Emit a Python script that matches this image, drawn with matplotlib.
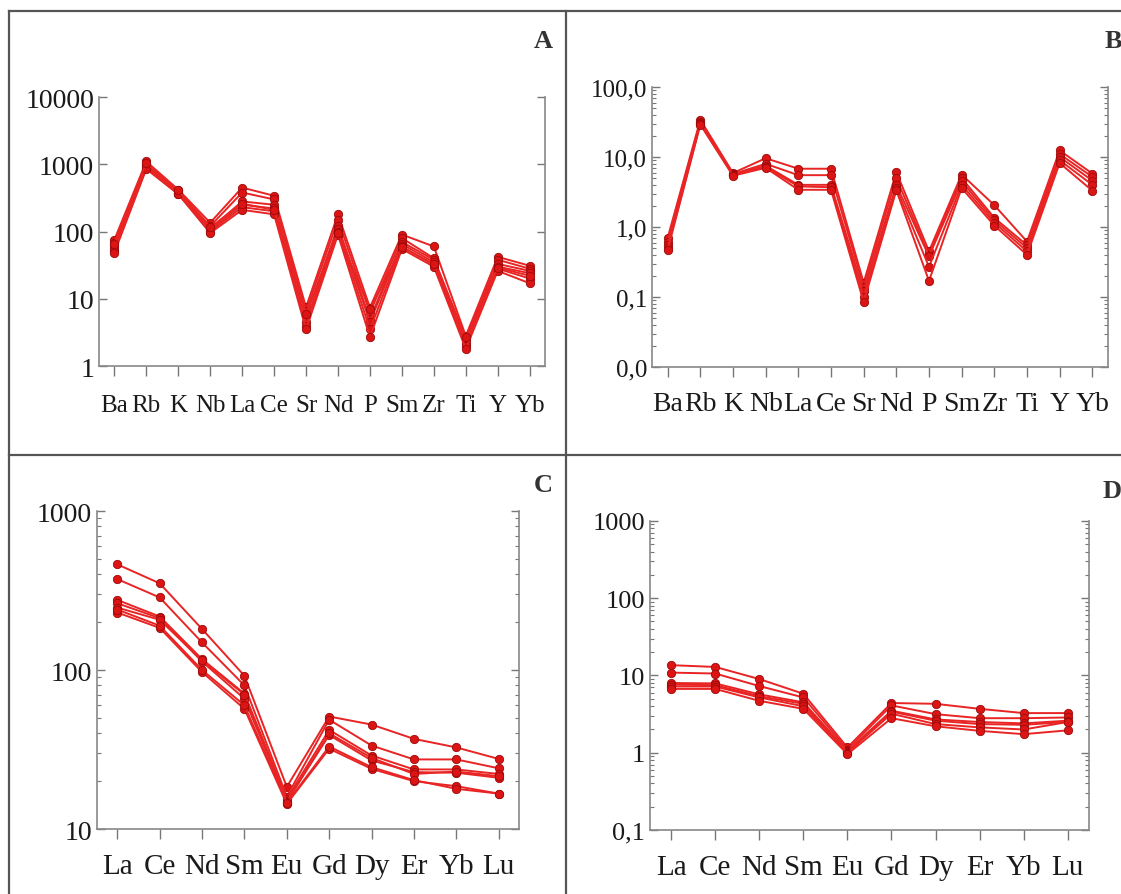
import numpy as np
import matplotlib
matplotlib.use("Agg")
import matplotlib.pyplot as plt
from matplotlib.lines import Line2D
from matplotlib.ticker import LogLocator, NullFormatter, FixedLocator, FixedFormatter

plt.rcParams['font.family'] = ['Liberation Serif', 'DejaVu Serif']

# spider diagram A (primitive mantle normalised)
elems_a = ['Ba', 'Rb', 'K', 'Nb', 'La', 'Ce', 'Sr', 'Nd', 'P', 'Sm', 'Zr', 'Ti', 'Y', 'Yb']
a1 = [75, 1100, 420, 135, 450, 340, 7.5, 180, 7.4, 90, 60, 2.8, 42, 31]
a2 = [68, 1000, 400, 120, 380, 300, 6.5, 150, 6.2, 80, 40, 2.6, 38, 28]
a3 = [60, 950, 380, 110, 280, 250, 5.5, 120, 5.0, 70, 38, 2.4, 33, 26]
a4 = [55, 900, 370, 105, 250, 220, 4.5, 110, 4.5, 65, 35, 2.2, 30, 24]
a5 = [52, 880, 360, 100, 230, 200, 4.0, 100, 3.5, 60, 32, 2.0, 28, 20]
a6 = [48, 850, 360, 95, 210, 180, 3.5, 90, 2.7, 55, 30, 1.8, 26, 17]
a7 = [65, 1050, 410, 115, 260, 210, 6.0, 95, 7.0, 58, 33, 2.7, 29, 22]

# spider diagram B
elems_b = elems_a
b1 = [0.70, 34, 5.9, 9.6, 6.8, 6.8, 0.16, 6.1, 0.45, 5.6, 2.05, 0.62, 12.4, 5.8]
b2 = [0.62, 32, 5.7, 8.0, 5.5, 5.5, 0.14, 5.0, 0.40, 5.0, 1.35, 0.55, 11.0, 5.2]
b3 = [0.55, 31, 5.6, 7.5, 4.0, 4.0, 0.12, 4.0, 0.38, 4.5, 1.25, 0.50, 10.0, 4.6]
b4 = [0.50, 30, 5.5, 7.2, 3.8, 3.7, 0.10, 3.6, 0.27, 4.0, 1.15, 0.45, 9.0, 4.0]
b5 = [0.47, 29, 5.4, 7.0, 3.4, 3.4, 0.085, 3.35, 0.17, 3.6, 1.05, 0.40, 8.2, 3.3]

# REE diagram C (chondrite normalised)
ree = ['La', 'Ce', 'Nd', 'Sm', 'Eu', 'Gd', 'Dy', 'Er', 'Yb', 'Lu']
c1 = [462, 351, 181, 92, 18.4, 51, 45.4, 36.9, 32.6, 27.6]
c2 = [373, 286, 149, 80, 16.0, 48.7, 33.5, 27.4, 27.4, 24.1]
c3 = [276, 217, 117, 71, 15.5, 42, 29, 23.7, 23.7, 22.2]
c4 = [263, 212, 113, 66, 15.0, 39, 27, 22.8, 22.6, 21]
c5 = [247, 207, 115, 70, 14.8, 40, 28, 22.2, 23, 21.5]
c6 = [230, 184, 97, 57, 14.4, 32, 23.9, 20, 18.6, 16.7]
c7 = [240, 190, 100, 60, 14.6, 33, 24.5, 20.3, 17.9, 16.7]

# REE diagram D
d1 = [13.6, 12.9, 9.0, 5.8, 1.17, 4.4, 4.3, 3.7, 3.26, 3.26]
d2 = [10.9, 10.6, 7.3, 5.2, 1.10, 4.1, 3.16, 2.8, 2.8, 2.86]
d3 = [8.0, 7.9, 5.7, 4.5, 1.05, 3.5, 2.7, 2.5, 2.4, 2.6]
d4 = [7.6, 7.5, 5.4, 4.3, 1.02, 3.4, 2.6, 2.35, 2.3, 2.5]
d5 = [7.2, 7.2, 5.2, 4.0, 1.00, 3.2, 2.35, 2.13, 2.0, 2.5]
d6 = [6.7, 6.7, 4.7, 3.7, 0.96, 2.8, 2.2, 1.92, 1.74, 1.95]

line_col = '#e82424'
face_col = '#dc1414'
edge_col = '#9c0a0a'

fig = plt.figure(figsize=(11.21, 8.95), dpi=100)


def panel(rect, names, series, ylim, yticks, ylabels, xfs, yfs, xpad):
    ax = fig.add_axes(rect)
    x = np.arange(len(names))
    for s in series:
        ax.plot(x, s, color=line_col, lw=1.4, marker='o', ms=6,
                mfc=face_col, mec=edge_col, mew=0.6)
    ax.set_yscale('log')
    ax.set_ylim(*ylim)
    ax.set_xlim(-0.48, len(names) - 0.52)
    ax.set_xticks(x)
    ax.set_xticklabels(names, fontsize=xfs)
    ax.yaxis.set_major_locator(FixedLocator(yticks))
    ax.yaxis.set_major_formatter(FixedFormatter(ylabels))
    ax.yaxis.set_minor_locator(LogLocator(base=10, subs=np.arange(2, 10)))
    ax.yaxis.set_minor_formatter(NullFormatter())
    ax.tick_params(axis='y', which='both', direction='in', left=True, right=True,
                   labelsize=yfs, colors='#777777', labelcolor='#1a1a1a')
    ax.tick_params(axis='y', which='major', length=6, width=1)
    ax.tick_params(axis='y', which='minor', length=3, width=0.8)
    ax.tick_params(axis='x', direction='out', length=7, width=1, colors='#777777',
                   labelcolor='#1a1a1a', pad=xpad)
    ax.spines['top'].set_visible(False)
    for side in ['left', 'right', 'bottom']:
        ax.spines[side].set_color('#888888')
        ax.spines[side].set_linewidth(1.2)
    return ax


panel([0.0883, 0.5899, 0.3979, 0.3006], elems_a, [a1, a2, a3, a4, a5, a6, a7],
      (1, 10000), [1, 10, 100, 1000, 10000], ['1', '10', '100', '1000', '10000'], 18, 20, 13)
panel([0.5816, 0.5888, 0.4068, 0.3129], elems_b, [b1, b2, b3, b4, b5],
      (0.01, 100), [0.01, 0.1, 1, 10, 100], ['0,0', '0,1', '1,0', '10,0', '100,0'], 20, 18, 10)
panel([0.0865, 0.0726, 0.3765, 0.3553], ree, [c1, c2, c3, c4, c5, c6, c7],
      (10, 1000), [10, 100, 1000], ['10', '100', '1000'], 21, 20, 10)
panel([0.5798, 0.0715, 0.3916, 0.3453], ree, [d1, d2, d3, d4, d5, d6],
      (0.1, 1000), [0.1, 1, 10, 100, 1000], ['0,1', '1', '10', '100', '1000'], 21, 19, 10)

# panel frame lines
W, H = 1121.0, 895.0
frame = '#555555'
fig.add_artist(Line2D([9 / W, 1], [1 - 12 / H, 1 - 12 / H], color=frame, lw=1.6))
fig.add_artist(Line2D([9 / W, 9 / W], [0, 1 - 12 / H], color=frame, lw=1.6))
fig.add_artist(Line2D([566 / W, 566 / W], [0, 1 - 12 / H], color=frame, lw=1.6))
fig.add_artist(Line2D([9 / W, 1], [1 - 456 / H, 1 - 456 / H], color=frame, lw=1.6))

for lab, px, py in [('A', 543, 41), ('B', 1113, 41), ('C', 543, 485), ('D', 1112, 492)]:
    fig.text(px / W, 1 - py / H, lab, fontsize=19, fontweight='bold', color='#333333',
             ha='center', va='center')

fig.savefig('out.png', dpi=100)
